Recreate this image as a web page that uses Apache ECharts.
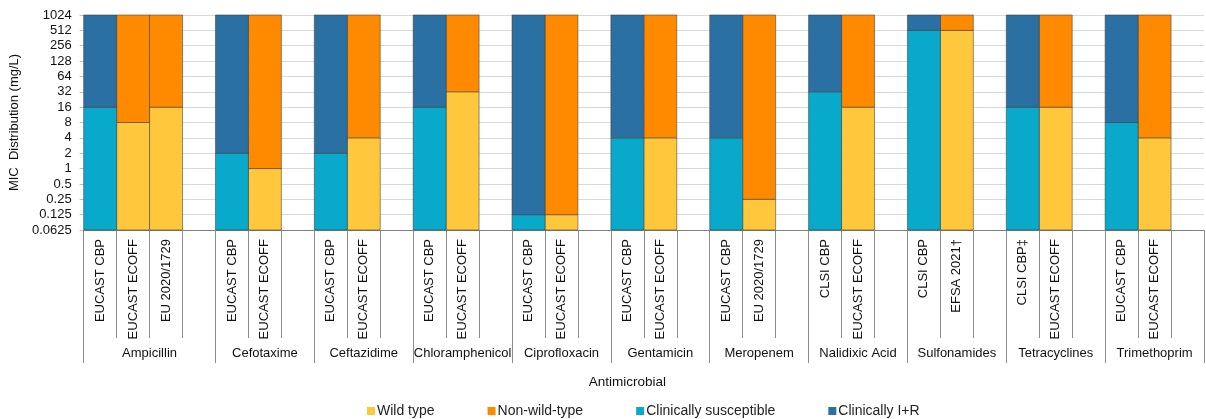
<!DOCTYPE html>
<html>
<head>
<meta charset="utf-8">
<script src="https://cdn.jsdelivr.net/npm/echarts@6/dist/echarts.min.js"></script>
<style>html,body{margin:0;padding:0;background:#fff}#c{width:1206px;height:419px}</style>
</head>
<body>
<div id="c"></div>
<script>
// Groups (antimicrobials) and number of category slots each occupies (incl. the spacer slot)
const groups = ['Ampicillin','Cefotaxime','Ceftazidime','Chloramphenicol','Ciprofloxacin','Gentamicin','Meropenem','Nalidixic Acid','Sulfonamides','Tetracyclines','Trimethoprim'];
const groupSizes = [4,3,3,3,3,3,3,3,3,3,3];
// Sub-category labels per slot ('' = spacer)
const subLabels = [
  'EUCAST CBP','EUCAST ECOFF','EU 2020/1729','',
  'EUCAST CBP','EUCAST ECOFF','',
  'EUCAST CBP','EUCAST ECOFF','',
  'EUCAST CBP','EUCAST ECOFF','',
  'EUCAST CBP','EUCAST ECOFF','',
  'EUCAST CBP','EUCAST ECOFF','',
  'EUCAST CBP','EU 2020/1729','',
  'CLSI CBP','EUCAST ECOFF','',
  'CLSI CBP','EFSA 2021\u2020','',
  'CLSI CBP\u2021','EUCAST ECOFF','',
  'EUCAST CBP','EUCAST ECOFF',''
];
// Type of threshold per slot: 'C' clinical breakpoint, 'E' epidemiological cut-off
const slotKind = [
  'C','E','E',null,
  'C','E',null,
  'C','E',null,
  'C','E',null,
  'C','E',null,
  'C','E',null,
  'C','E',null,
  'C','E',null,
  'C','E',null,
  'C','E',null,
  'C','E',null
];
// Threshold (mg/L) per slot
const thresholds = [
  16,8,16,null,
  2,1,null,
  2,4,null,
  16,32,null,
  0.125,0.125,null,
  4,4,null,
  4,0.25,null,
  32,16,null,
  512,512,null,
  16,16,null,
  8,4,null
];
const yMin = 0.0625, yMax = 1024;
const seriesNames = ['Wild type','Non-wild-type','Clinically susceptible','Clinically I+R'];
const seriesColors = ['#FFC83C','#FF8A00','#08A9CB','#2B70A2'];

function build(kind, lower) {
  const out = [];
  thresholds.forEach((t, i) => {
    if (t == null || slotKind[i] !== kind) return;
    out.push(lower ? [i, yMin, t] : [i, t, yMax]);
  });
  return out;
}
const seriesData = [build('E', true), build('E', false), build('C', true), build('C', false)];

const boundaries = [0];
const centers = [];
groupSizes.forEach((s) => { const b = boundaries[boundaries.length-1]; centers.push(b + s/2); boundaries.push(b + s); });
const nSlots = boundaries[boundaries.length-1];

function renderItem(params, api) {
  const x = api.value(0), lo = api.value(1), hi = api.value(2);
  const p0 = api.coord([x, lo]);
  const p1 = api.coord([x, hi]);
  const w = api.size([1, 1])[0];
  return {
    type: 'rect',
    shape: { x: p0[0] - w/2, y: p1[1], width: w, height: p0[1] - p1[1] },
    style: api.style({ stroke: 'rgba(60,60,60,0.55)', lineWidth: 1 })
  };
}

const chart = echarts.init(document.getElementById('c'), null, { renderer: 'canvas' });
const font = 'Liberation Sans, Arial, sans-serif';
chart.setOption({
  animation: false,
  textStyle: { fontFamily: font },
  grid: { left: 82, right: 2, top: 15, bottom: 189, containLabel: false },
  legend: {
    left: 362, top: 399,
    itemWidth: 8, itemHeight: 8, itemGap: 53,
    icon: 'rect',
    textStyle: { fontSize: 14, color: '#222', fontFamily: font, padding: [0,0,0,-3] },
    data: seriesNames
  },
  xAxis: [
    {
      type: 'category', data: subLabels, boundaryGap: true,
      axisLine: { show: true, lineStyle: { color: '#808080', width: 1 } },
      axisTick: { show: true, interval: 0, length: 108, lineStyle: { color: '#8c8c8c' } },
      axisLabel: { interval: 0, rotate: 90, margin: 9, fontSize: 13, color: '#111', fontFamily: font },
      splitLine: { show: false },
      name: 'Antimicrobial', nameLocation: 'middle', nameGap: 145,
      nameTextStyle: { fontSize: 13.5, color: '#111', padding: [0, 33, 0, 0], fontFamily: font }
    },
    {
      type: 'value', min: 0, max: nSlots, position: 'bottom',
      axisLine: { show: false },
      axisTick: { show: true, customValues: boundaries, length: 133, lineStyle: { color: '#8c8c8c' } },
      axisLabel: {
        customValues: centers, margin: 117, fontSize: 13, color: '#111', fontFamily: font,
        formatter: (v) => { let best = 0; centers.forEach((c, i) => { if (Math.abs(c - v) < Math.abs(centers[best] - v)) best = i; }); return groups[best]; }
      },
      splitLine: { show: false }
    }
  ],
  yAxis: {
    type: 'log', logBase: 2, min: yMin, max: yMax, interval: 1, splitNumber: 14,
    axisLine: { show: false },
    axisTick: { show: true, length: 4, lineStyle: { color: '#bfbfbf' } },
    axisLabel: { fontSize: 13, color: '#111', margin: 12, fontFamily: font, formatter: (v) => String(v) },
    splitLine: { show: true, lineStyle: { color: '#d9d9d9', width: 1 } },
    name: 'MIC  Distribution (mg/L)', nameLocation: 'middle', nameGap: 54,
    nameTextStyle: { fontSize: 13, color: '#111', fontFamily: font }
  },
  series: seriesNames.map((name, k) => ({
    name, type: 'custom', renderItem,
    xAxisIndex: 0, yAxisIndex: 0,
    itemStyle: { color: seriesColors[k] },
    encode: { x: 0, y: [1, 2] },
    data: seriesData[k],
    z: 2
  }))
});
</script>
</body>
</html>
